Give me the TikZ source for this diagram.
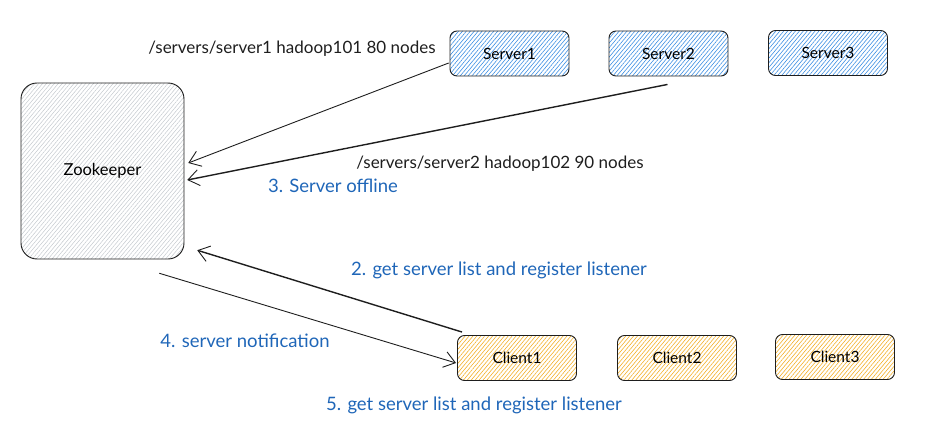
\documentclass[tikz,border=0pt]{standalone}
\usepackage{fontspec}
\setmainfont{Lato}
\usetikzlibrary{arrows.meta,patterns.meta}
\definecolor{ink}{HTML}{1E1E1E}
\definecolor{lblue}{HTML}{1F66B8}
\definecolor{hblue}{HTML}{3D8FE3}
\definecolor{hyellow}{HTML}{F3B02A}
\definecolor{hgray}{HTML}{C4C9CE}
\tikzset{
  box/.style={draw=ink, line width=0.9pt, rounded corners=7pt, minimum width=119pt, minimum height=45pt, inner sep=0pt, font=\fontsize{15.5}{18}\selectfont},
  srv/.style={box, pattern={Lines[angle=50,distance=3pt,line width=0.6pt]}, pattern color=hblue},
  cli/.style={box, pattern={Lines[angle=50,distance=3pt,line width=0.6pt]}, pattern color=hyellow},
  zkbox/.style={draw=ink, line width=0.9pt, rounded corners=16pt, minimum width=163pt, minimum height=176pt, inner sep=0pt, font=\fontsize{16.5}{19}\selectfont, pattern={Lines[angle=50,distance=3pt,line width=0.5pt]}, pattern color=hgray},
  conn/.style={draw=ink, line width=0.9pt, -{Straight Barb[length=11pt,width=16pt,line width=0.9pt]}},
  connthick/.style={conn, line width=1.4pt},
  blk/.style={text=ink, font=\fontsize{17}{20}\selectfont, inner sep=0pt},
  blu/.style={text=lblue, font=\fontsize{18.5}{21}\selectfont, inner sep=0pt},
}
\begin{document}
\begin{tikzpicture}[x=1pt,y=-1pt]
\useasboundingbox (0,0) rectangle (946,433);
\node[zkbox] (zk) at (102.5,171) {Zookeeper};
\node[srv] (s1) at (509.5,53.5) {Server1};
\node[srv] (s2) at (668.5,53.5) {Server2};
\node[srv] (s3) at (828,53) {Server3};
\node[cli] (c1) at (517,358) {Client1};
\node[cli] (c2) at (677,358) {Client2};
\node[cli] (c3) at (835,357) {Client3};

\draw[conn] ([shift={(-1,9.5)}]s1.west) -- ([shift={(4,-8)}]zk.east);
\draw[connthick] ([shift={(-1,8)}]s2.south) -- ([shift={(3,9)}]zk.east);
\draw[connthick] ([shift={(5,-3)}]c1.north west) -- ([shift={(13,-9)}]zk.south east);
\draw[conn] ([shift={(-25,14)}]zk.south east) -- ([shift={(-1,5)}]c1.west);

\node[blk] (l1) at (292,49) {/servers/server1 hadoop101 80 nodes};
\node[blk] (l2) at (500,164) {/servers/server2 hadoop102 90 nodes};
\node[blu] (l3) at (333,186) {3. Server offline};
\node[blu] (l4) at (499,270) {2. get server list and register listener};
\node[blu] (l5) at (245,341) {4. server notification};
\node[blu] (l6) at (474,405) {5. get server list and register listener};
\end{tikzpicture}
\end{document}
